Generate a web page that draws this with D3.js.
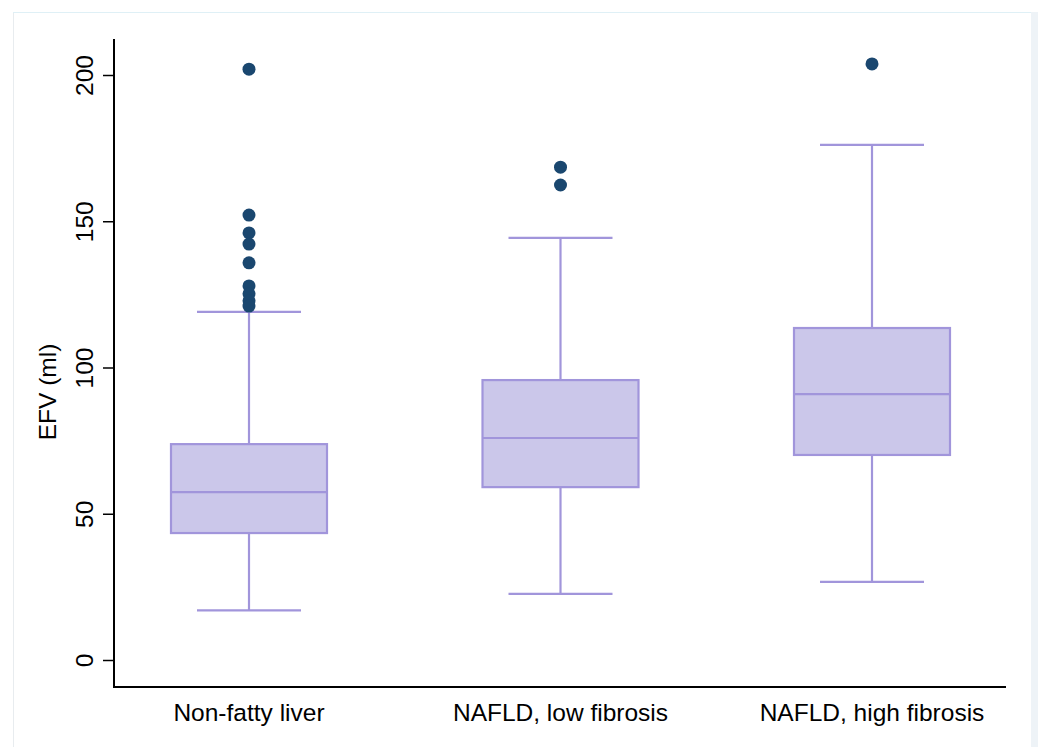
<!DOCTYPE html>
<html lang="en">
<head>
<meta charset="UTF-8">
<title>EFV by liver status</title>
<script src="https://d3js.org/d3.v7.min.js"></script>
<style>
  body { margin: 0; background: #fff; }
  svg { display: block; font-family: "Liberation Sans", Arial, sans-serif; }
</style>
</head>
<body>
<svg></svg>
<script>
const [width, height] = [1038, 747]

// data
const groups = ['Non-fatty liver', 'NAFLD, low fibrosis', 'NAFLD, high fibrosis']
const lowWhisker = [17, 22.6, 26.7]
const q1 = [43.4, 59.1, 70.1]
const median = [57.4, 75.9, 90.9]
const q3 = [73.8, 95.7, 113.5]
const highWhisker = [119, 144.3, 176.1]
const outliers = [
  [202, 152.1, 146, 142.2, 135.8, 127.9, 125.2, 122.8, 121],
  [168.5, 162.4],
  [203.8]
]
const yTicks = [0, 50, 100, 150, 200]

const svg = d3.select('svg').attr('width', width).attr('height', height)

// outer frame
svg.append('line').attr('x1', 13.5).attr('x2', 13.5).attr('y1', 12).attr('y2', 747)
  .attr('stroke', '#e8ecef').attr('stroke-width', 1)
svg.append('line').attr('x1', 13).attr('x2', 1031).attr('y1', 12.5).attr('y2', 12.5)
  .attr('stroke', '#dff0f6').attr('stroke-width', 1)
svg.append('rect').attr('x', 1031).attr('y', 12).attr('width', 7).attr('height', 735)
  .attr('fill', '#eef3f7')

const plot = {left: 114, right: 1006, top: 39, bottom: 687}
const fontSize = 24.5

const y = d3.scaleLinear().domain([0, 200]).range([660, 75])
const x = d3.scalePoint().domain(groups).range([249, 872])

const boxW = 156, capW = 104
const fill = '#cbc7ea', stroke = '#a195db', dot = '#1a476f'

// axes
const yAxis = svg.append('g').attr('transform', `translate(${plot.left},0)`)
  .call(d3.axisLeft(y).tickValues(yTicks).tickSize(11).tickSizeOuter(0))
yAxis.select('.domain').remove()
yAxis.append('line').attr('x1', 0).attr('x2', 0).attr('y1', plot.top).attr('y2', plot.bottom + 1)
  .attr('stroke', '#000').attr('stroke-width', 2)
yAxis.selectAll('.tick line').attr('stroke', '#000').attr('stroke-width', 1.5)
yAxis.selectAll('.tick text')
  .attr('font-size', fontSize).attr('fill', '#000')
  .attr('x', 0).attr('y', 0).attr('dy', 0)
  .attr('text-anchor', 'middle')
  .attr('transform', 'translate(-21,0) rotate(-90)')

svg.append('line').attr('x1', plot.left - 1).attr('x2', plot.right)
  .attr('y1', plot.bottom).attr('y2', plot.bottom)
  .attr('stroke', '#000').attr('stroke-width', 2)

svg.append('text').text('EFV (ml)')
  .attr('transform', 'translate(56,392) rotate(-90)')
  .attr('text-anchor', 'middle').attr('font-size', fontSize).attr('fill', '#000')

svg.selectAll('.xlab').data(groups).join('text').attr('class', 'xlab')
  .attr('x', d => x(d)).attr('y', 721)
  .attr('text-anchor', 'middle').attr('font-size', fontSize).attr('fill', '#000')
  .text(d => d)

// boxes
const box = svg.selectAll('.box').data(groups).join('g').attr('class', 'box')
box.append('line')
  .attr('x1', d => x(d)).attr('x2', d => x(d))
  .attr('y1', (d, i) => y(highWhisker[i])).attr('y2', (d, i) => y(q3[i]))
box.append('line')
  .attr('x1', d => x(d)).attr('x2', d => x(d))
  .attr('y1', (d, i) => y(q1[i])).attr('y2', (d, i) => y(lowWhisker[i]))
box.append('line')
  .attr('x1', d => x(d) - capW / 2).attr('x2', d => x(d) + capW / 2)
  .attr('y1', (d, i) => y(highWhisker[i])).attr('y2', (d, i) => y(highWhisker[i]))
box.append('line')
  .attr('x1', d => x(d) - capW / 2).attr('x2', d => x(d) + capW / 2)
  .attr('y1', (d, i) => y(lowWhisker[i])).attr('y2', (d, i) => y(lowWhisker[i]))
box.append('rect')
  .attr('x', d => x(d) - boxW / 2).attr('width', boxW)
  .attr('y', (d, i) => y(q3[i])).attr('height', (d, i) => y(q1[i]) - y(q3[i]))
  .attr('fill', fill)
box.append('line')
  .attr('x1', d => x(d) - boxW / 2).attr('x2', d => x(d) + boxW / 2)
  .attr('y1', (d, i) => y(median[i])).attr('y2', (d, i) => y(median[i]))
box.selectAll('line, rect').attr('stroke', stroke).attr('stroke-width', 2.2)

// outliers
groups.forEach((g, i) => {
  svg.selectAll(null).data(outliers[i]).join('circle')
    .attr('cx', x(g)).attr('cy', d => y(d)).attr('r', 6.5)
    .attr('fill', dot)
})
</script>
</body>
</html>
